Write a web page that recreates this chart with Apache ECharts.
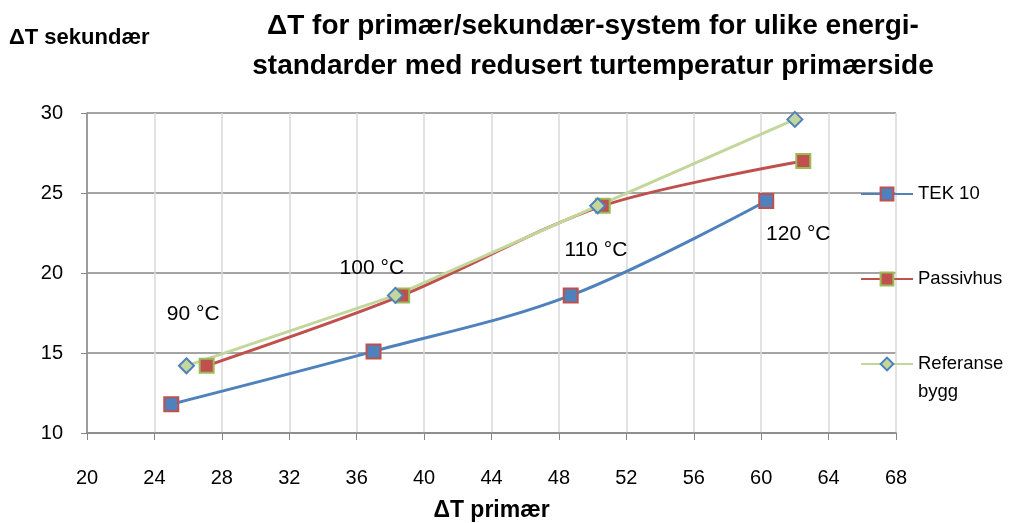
<!DOCTYPE html>
<html><head><meta charset="utf-8">
<script src="https://cdn.jsdelivr.net/npm/echarts@6/dist/echarts.min.js"></script>
<style>html,body{margin:0;padding:0;background:#fff}#c{width:1011px;height:523px}</style>
</head><body><div id="c"></div>
<script>
const tek10 = [[25.0, 11.8], [37.0, 15.1], [48.7, 18.6], [60.3, 24.5]];
const passivhus = [[27.1, 14.2], [38.7, 18.6], [50.6, 24.2], [62.5, 27.0]];
const referanse = [[25.9, 14.2], [38.3, 18.6], [50.3, 24.2], [62.0, 29.6]];
const tempLabels = ['90 °C', '100 °C', '110 °C', '120 °C'];
const tempLabelPos = [[26.3, 17.4], [36.9, 20.3], [50.2, 21.4], [62.2, 22.4]];

const FONT = 'Liberation Sans';
const legendText = { fontSize: 18.5, color: '#000', fontFamily: FONT, lineHeight: 28 };
const chart = echarts.init(document.getElementById('c'));
chart.setOption({
  animation: false,
  textStyle: { fontFamily: FONT },
  title: {
    text: 'ΔT for primær/sekundær-system for ulike energi-\nstandarder med redusert turtemperatur primærside',
    left: 588, top: 1, textAlign: 'center',
    textStyle: { fontSize: 28, fontWeight: 'bold', color: '#000', lineHeight: 40, fontFamily: FONT }
  },
  legend: [
    { orient: 'vertical', left: 860, top: 180, padding: 0, itemWidth: 52, itemHeight: 16,
      textStyle: legendText, data: ['TEK 10'] },
    { orient: 'vertical', left: 860, top: 265, padding: 0, itemWidth: 52, itemHeight: 16,
      textStyle: legendText, data: ['Passivhus'] },
    { orient: 'vertical', left: 860, top: 322, padding: 0, itemWidth: 52, itemHeight: 16,
      textStyle: legendText, formatter: n => '\u00a0\n' + n, data: ['Referanse\nbygg'] }
  ],
  grid: { left: 87, right: 115, top: 113, bottom: 90, outerBoundsMode: 'none', containLabel: false },
  xAxis: {
    type: 'value', min: 20, max: 68, interval: 4,
    name: 'ΔT primær', nameLocation: 'middle', nameGap: 66,
    nameTextStyle: { fontSize: 23, fontWeight: 'bold', color: '#000' },
    axisLine: { lineStyle: { color: '#868686', width: 1.5 } },
    axisTick: { show: true, length: 7, lineStyle: { color: '#868686' } },
    axisLabel: { fontSize: 20, color: '#000', margin: 35 },
    splitLine: { show: true, lineStyle: { color: '#d9d9d9', width: 1.5 } }
  },
  yAxis: {
    type: 'value', min: 10, max: 30, interval: 5,
    name: 'ΔT sekundær', nameLocation: 'end', nameGap: 0,
    nameTextStyle: { fontSize: 22, fontWeight: 'bold', color: '#000', align: 'left', padding: [0, 0, 64, -78] },
    axisLine: { show: true, lineStyle: { color: '#868686', width: 1.5 } },
    axisTick: { show: true, length: 6, lineStyle: { color: '#868686' } },
    axisLabel: { fontSize: 20, color: '#000', margin: 24 },
    splitLine: { show: true, lineStyle: { color: '#868686', width: 1.5 } }
  },
  series: [
    { name: 'TEK 10', type: 'line', data: tek10, smooth: 0.35,
      symbol: 'rect', symbolSize: 14,
      lineStyle: { color: '#4F81BD', width: 3 },
      itemStyle: { color: '#4F81BD', borderColor: '#C0504D', borderWidth: 2 } },
    { name: 'Passivhus', type: 'line', data: passivhus, smooth: 0.3,
      symbol: 'rect', symbolSize: 14,
      lineStyle: { color: '#C0504D', width: 3 },
      itemStyle: { color: '#C0504D', borderColor: '#9BBB59', borderWidth: 2 } },
    { name: 'Referanse\nbygg', type: 'line', data: referanse, smooth: false,
      symbol: 'diamond', symbolSize: 15,
      lineStyle: { color: '#C3D69B', width: 3 },
      itemStyle: { color: '#C3D69B', borderColor: '#4F81BD', borderWidth: 2 } },
    { type: 'scatter', symbolSize: 0, silent: true, legendHoverLink: false,
      itemStyle: { opacity: 1 },
      data: tempLabelPos.map((p, i) => ({ value: p, name: tempLabels[i] })),
      label: { show: true, position: 'inside', formatter: p => p.name, fontSize: 21,
               color: '#000', textBorderWidth: 0, fontFamily: FONT } }
  ]
});
</script></body></html>
